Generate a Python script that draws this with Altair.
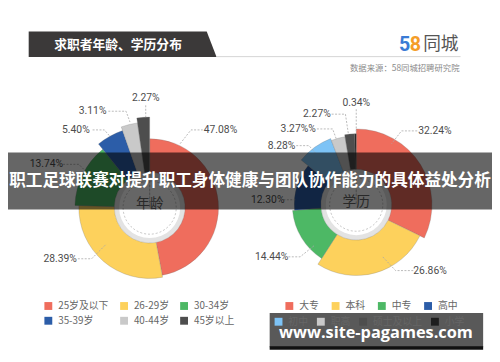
import altair as alt
import pandas as pd

# ---------------- data ----------------
AGE_CATS = ["25岁及以下", "26-29岁", "30-34岁", "35-39岁", "40-44岁", "45岁以上"]
AGE_VALUES = [47.08, 28.39, 13.74, 5.40, 3.11, 2.27]
AGE_LABELS = ["47.08%", "28.39%", "13.74%", "5.40%", "3.11%", "2.27%"]

EDU_CATS = ["大专", "本科", "中专", "高中", "初中", "职高", "硕士及以上", "小学"]
EDU_VALUES = [32.24, 26.86, 14.44, 12.30, 8.28, 3.27, 2.27, 0.34]
EDU_LABELS = ["32.24%", "26.86%", "14.44%", "12.30%", "8.28%", "3.27%%", "2.27%", "0.34%"]

TITLE = "求职者年龄、学历分布"
SOURCE = "数据来源：58同城招聘研究院"
BANNER = "职工足球联赛对提升职工身体健康与团队协作能力的具体益处分析"
WATERMARK = "www.site-pagames.com"
AGE_CENTER_TEXT = "年龄"
EDU_CENTER_TEXT = "学历"

# ---------------- styles / layout ----------------
OFF = 8  # page margin
CJK = "Noto Sans CJK SC"
AGE_COLORS = ["#ef6d5d", "#fdd15c", "#4db865", "#2c5da8", "#c9c9c9", "#4e4e4e"]
EDU_COLORS = ["#ef6d5d", "#fdd15c", "#4db865", "#2c5da8", "#7dc3f6", "#c9c9c9", "#4e4e4e", "#1e1e1e"]
AGE_RADII = [70, 72, 76, 83, 87, 92]
EDU_RADII = [77, 72, 65, 63, 72, 70, 72, 72]
AGE_C = (152, 208)
EDU_C = (362, 205)
INNER = 36
TWO_PI = 6.283185

AGE_LABEL_POS = [(224, 129), (61, 260), (47, 164), (77, 129), (94, 110), (148, 97)]
EDU_LABEL_POS = [(442, 130), (437, 272), (276, 258), (272, 200), (286, 145), (303, 128), (322, 113), (362, 102)]
AGE_LEADERS = [
    [(183, 143), (194, 129), (206, 129)],
    [(79, 260), (93, 260), (108, 245)],
    [(64, 164), (80, 164), (86, 170)],
    [(94, 129), (106, 129), (112, 136)],
    [(110, 110), (128, 110), (132, 121)],
    [(148, 104), (148, 116)],
]
EDU_LEADERS = [
    [(424, 130), (408, 130), (398, 143)],
    [(420, 272), (402, 272), (388, 257)],
    [(293, 258), (305, 258), (320, 246)],
    [(288, 200), (300, 200)],
    [(301, 145), (314, 145), (320, 152)],
    [(322, 128), (338, 128), (342, 139)],
    [(337, 113), (351, 113), (354, 133)],
    [(362, 108), (362, 130)],
]

XN = dict(scale=None, axis=None)


def txt(t, x, y, **kw):
    props = dict(baseline="middle", font=CJK)
    props.update(kw)
    return alt.Chart(pd.DataFrame({"t": [t]})).mark_text(**props).encode(
        x=alt.value(x - OFF), y=alt.value(y - OFF), text="t:N")


def rect(x1, x2, y1, y2, **kw):
    return alt.Chart(pd.DataFrame({"a": [0]})).mark_rect(**kw).encode(
        x=alt.value(x1 - OFF), x2=alt.value(x2 - OFF),
        y=alt.value(y1 - OFF), y2=alt.value(y2 - OFF))


def leg(x, y, cols, colpad):
    return alt.Legend(title=None, orient="none", legendX=x - OFF, legendY=y - OFF,
                      direction="horizontal",
                      columns=cols, columnPadding=colpad, rowPadding=5,
                      symbolType="square", symbolSize=64, symbolStrokeWidth=0,
                      labelFontSize=10, labelFont=CJK, labelColor="#666666", labelOffset=5)


def donut(cats, vals, colors, radii, c, parts):
    """parts: list of (start, stop, legend) -> one layer per legend group"""
    df = pd.DataFrame({"cat": cats, "value": vals, "idx": list(range(len(cats))), "r": radii})
    base = alt.Chart(df).transform_joinaggregate(
        total="sum(value)"
    ).transform_window(
        cum="sum(value)", sort=[alt.SortField("idx")], frame=[None, 0]
    ).transform_calculate(
        a0="(datum.cum - datum.value) / datum.total", a1="datum.cum / datum.total"
    )
    out = []
    for s, e, legend in parts:
        out.append(base.transform_filter(
            f"datum.idx >= {s} && datum.idx < {e}"
        ).mark_arc(radius2=INNER, stroke="#777777", strokeWidth=0.4, strokeOpacity=0.7).encode(
            x=alt.value(c[0] - OFF), y=alt.value(c[1] - OFF),
            theta=alt.Theta("a0:Q", scale=alt.Scale(domain=[0, 1], range=[0, TWO_PI])),
            theta2="a1:Q",
            radius=alt.Radius("r:Q", scale=None, stack=False),
            color=alt.Color("cat:N", scale=alt.Scale(domain=cats[s:e], range=colors[s:e]),
                            legend=legend),
        ))
    return out


def hole(c):
    one = pd.DataFrame({"a": [0]})
    ring = alt.Chart(one).mark_arc(theta=0, theta2=TWO_PI, radius=INNER, radius2=31,
                                   fill="#e3e3e3").encode(
        x=alt.value(c[0] - OFF), y=alt.value(c[1] - OFF))
    dash = alt.Chart(one).mark_arc(theta=0, theta2=TWO_PI, radius=27, radius2=0,
                                   fill="#ffffff", stroke="#b5b5b5", strokeWidth=0.8,
                                   strokeDash=[2, 2]).encode(
        x=alt.value(c[0] - OFF), y=alt.value(c[1] - OFF))
    return [ring, dash]


# header
header_df = pd.DataFrame({"x": [29, 210, 220], "y": [29, 29, 55], "y2": [55, 55, 55]})
header_df = header_df - OFF
header = alt.Chart(header_df).mark_area(color="#3b3939").encode(
    x=alt.X("x:Q", **XN), y=alt.Y("y:Q", **XN), y2="y2:Q")
hline = alt.Chart(pd.DataFrame({"a": [0]})).mark_rule(color="#d4d4d4", strokeWidth=1).encode(
    x=alt.value(220 - OFF), x2=alt.value(468 - OFF), y=alt.value(54.5 - OFF))

# labels
lab_df = pd.DataFrame({
    "t": AGE_LABELS + EDU_LABELS,
    "x": [p[0] - OFF for p in AGE_LABEL_POS + EDU_LABEL_POS],
    "y": [p[1] - OFF for p in AGE_LABEL_POS + EDU_LABEL_POS],
})
labels = alt.Chart(lab_df).mark_text(font="Roboto", fontSize=10.5, color="#4d4d4d",
                                     baseline="middle").encode(
    x=alt.X("x:Q", **XN), y=alt.Y("y:Q", **XN), text="t:N")

rows = []
for i, line in enumerate(AGE_LEADERS + EDU_LEADERS):
    for j, (px_, py_) in enumerate(line):
        rows.append({"id": i, "o": j, "x": px_ - OFF, "y": py_ - OFF})
leaders = alt.Chart(pd.DataFrame(rows)).mark_line(color="#a8a8a8", strokeWidth=0.8,
                                                  strokeDash=[2, 1.5]).encode(
    x=alt.X("x:Q", **XN), y=alt.Y("y:Q", **XN), detail="id:N", order="o:Q")

age_layers = donut(AGE_CATS, AGE_VALUES, AGE_COLORS, AGE_RADII, AGE_C,
                   [(0, 6, leg(44, 303, 3, 10))])
edu_layers = donut(EDU_CATS, EDU_VALUES, EDU_COLORS, EDU_RADII, EDU_C,
                   [(0, 4, leg(289, 303, 4, 12)), (4, 8, leg(278, 319, 4, 8))])

layers = [
    header, hline,
    txt(TITLE, 55, 42.5, fontSize=13, color="#ffffff", fontWeight="bold", align="left"),
    txt("5", 405.5, 43, font="Roboto", fontSize=20, color="#3a7bd5", fontWeight="bold", align="left"),
    txt("8", 416.5, 43, font="Roboto", fontSize=20, color="#f49d27", fontWeight="bold", align="left"),
    txt("同城", 430, 43, fontSize=18, color="#555555", align="left"),
    txt(SOURCE, 467, 66, fontSize=8.5, color="#8a8a8a", align="right"),
    *hole(AGE_C), *hole(EDU_C),
    *age_layers, *edu_layers,
    txt(AGE_CENTER_TEXT, AGE_C[0], 204, fontSize=14, color="#666666", align="center"),
    txt(EDU_CENTER_TEXT, EDU_C[0], 202, fontSize=14, color="#666666", align="center"),
    leaders, labels,
    rect(0, 500, 152, 210, color="#000000", opacity=0.6),
    txt(BANNER, 254, 181.5, fontSize=16.9, color="#ffffff", fontWeight="bold", align="center"),
    rect(274, 491, 315, 350, color="#000000", opacity=0.65),
    rect(274, 491, 349, 352.5, color="#111111"),
    txt(WATERMARK, 382, 335.5, font="Open Sans", fontSize=16.6, color="#ffffff", fontWeight="bold",
        align="center"),
]

chart = alt.layer(*layers).resolve_scale(
    color="independent", theta="independent"
).properties(
    width=500 - OFF, height=362 - OFF, padding=0,
    autosize=alt.AutoSizeParams(type="none"), background="#ffffff"
).configure_view(stroke=None)

chart.save("out.html", embed_options={"renderer": "svg", "actions": False})
